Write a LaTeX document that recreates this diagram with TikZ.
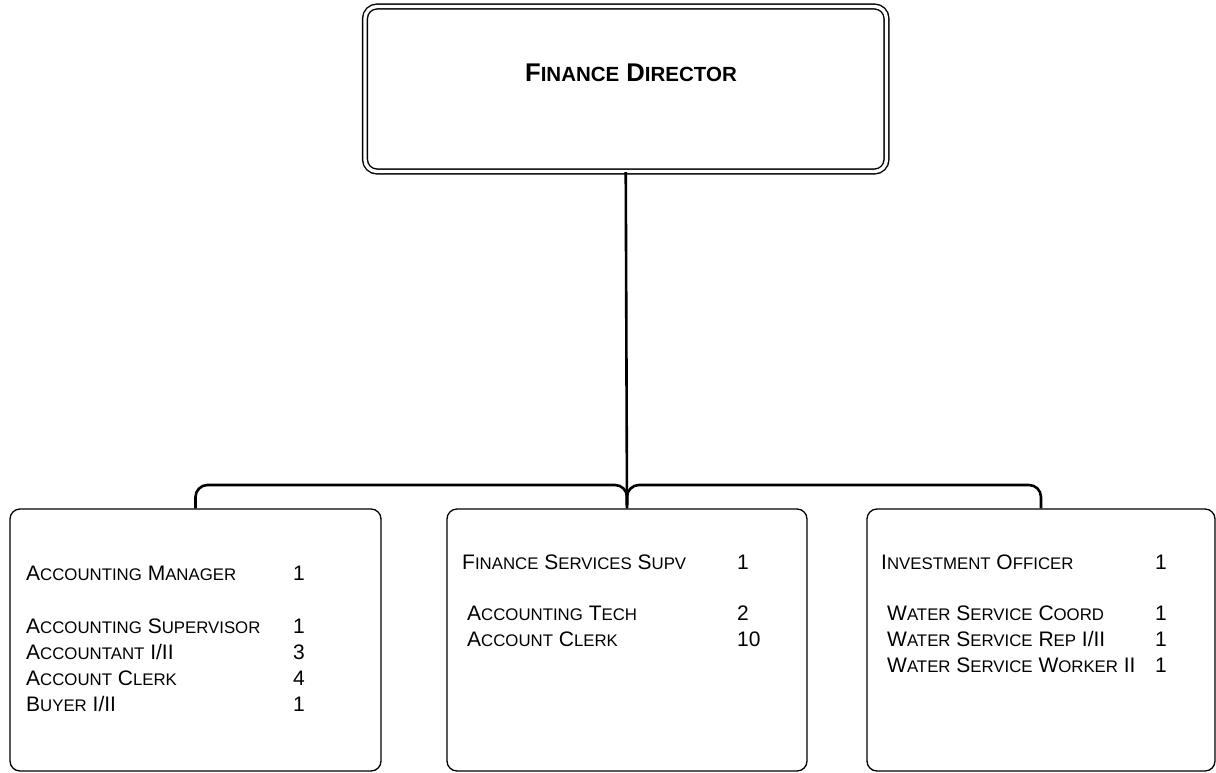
\documentclass[tikz,border=0pt]{standalone}
\usepackage{fontspec}
\setmainfont{Liberation Sans}
\newcommand\bodyfont{\fontsize{21}{26}\selectfont}
\newcommand\smc[1]{{\fontsize{16.8}{20}\selectfont #1}}
\newcommand\smcb[1]{{\fontsize{20.5}{24}\selectfont #1}}
\begin{document}
\begin{tikzpicture}[x=1pt,y=-1pt,
  box/.style={draw, line width=1.3pt, rounded corners=10pt, minimum width=#1, minimum height=262pt, inner sep=0pt},
  lbl/.style={anchor=base west, inner sep=0pt, font=\bodyfont},
  conn/.style={line width=2.6pt, rounded corners=12pt}]
\useasboundingbox (0,0) rectangle (1216,772);
% top box
\node[draw, line width=1.4pt, double, double distance=3.4pt, rounded corners=12pt,
      minimum width=521.5pt, minimum height=165pt, inner sep=0pt] (fd) at (625.75,89) {};
\node[anchor=base, inner sep=0pt, font=\fontsize{25.6}{30}\selectfont\bfseries] (fdt) at (631,81)
  {F\smcb{INANCE} D\smcb{IRECTOR}};
% lower boxes
\node[box=371pt] (acc) at (195.5,640) {};
\node[box=360pt] (fin) at (627,640) {};
\node[box=348pt] (inv) at (1041,640) {};
% connectors
\coordinate (bus) at (0,485);
\draw[conn] (fd.south) -- (fin.north);
\draw[conn] (acc.north) |- (fin.north |- bus) -- ([yshift=-20pt]fin.north |- bus);
\draw[conn] (inv.north) |- (fin.north |- bus) -- ([yshift=-20pt]fin.north |- bus);
% left box text
\node[lbl] (a1) at (26,580) {A\smc{CCOUNTING} M\smc{ANAGER}};
\node[lbl] (a1n) at (293,580) {1};
\node[lbl] (a2) at (26,633) {A\smc{CCOUNTING} S\smc{UPERVISOR}};
\node[lbl] (a2n) at (293,633) {1};
\node[lbl] (a3) at (26,659) {A\smc{CCOUNTANT} I/II};
\node[lbl] (a3n) at (293,659) {3};
\node[lbl] (a4) at (26,685) {A\smc{CCOUNT} C\smc{LERK}};
\node[lbl] (a4n) at (293,685) {4};
\node[lbl] (a5) at (26,711) {B\smc{UYER} I/II};
\node[lbl] (a5n) at (293,711) {1};
% middle box text
\node[lbl] (f1) at (462,569) {F\smc{INANCE} S\smc{ERVICES} S\smc{UPV}};
\node[lbl] (f1n) at (737,569) {1};
\node[lbl] (f2) at (467,620) {A\smc{CCOUNTING} T\smc{ECH}};
\node[lbl] (f2n) at (737,620) {2};
\node[lbl] (f3) at (467,646) {A\smc{CCOUNT} C\smc{LERK}};
\node[lbl] (f3n) at (737,646) {10};
% right box text
\node[lbl] (i1) at (881,569) {I\smc{NVESTMENT} O\smc{FFICER}};
\node[lbl] (i1n) at (1155,569) {1};
\node[lbl] (i2) at (887,620) {W\smc{ATER} S\smc{ERVICE} C\smc{OORD}};
\node[lbl] (i2n) at (1155,620) {1};
\node[lbl] (i3) at (887,646) {W\smc{ATER} S\smc{ERVICE} R\smc{EP} I/II};
\node[lbl] (i3n) at (1155,646) {1};
\node[lbl] (i4) at (887,672) {W\smc{ATER} S\smc{ERVICE} W\smc{ORKER} II};
\node[lbl] (i4n) at (1155,672) {1};
\end{tikzpicture}
\end{document}
